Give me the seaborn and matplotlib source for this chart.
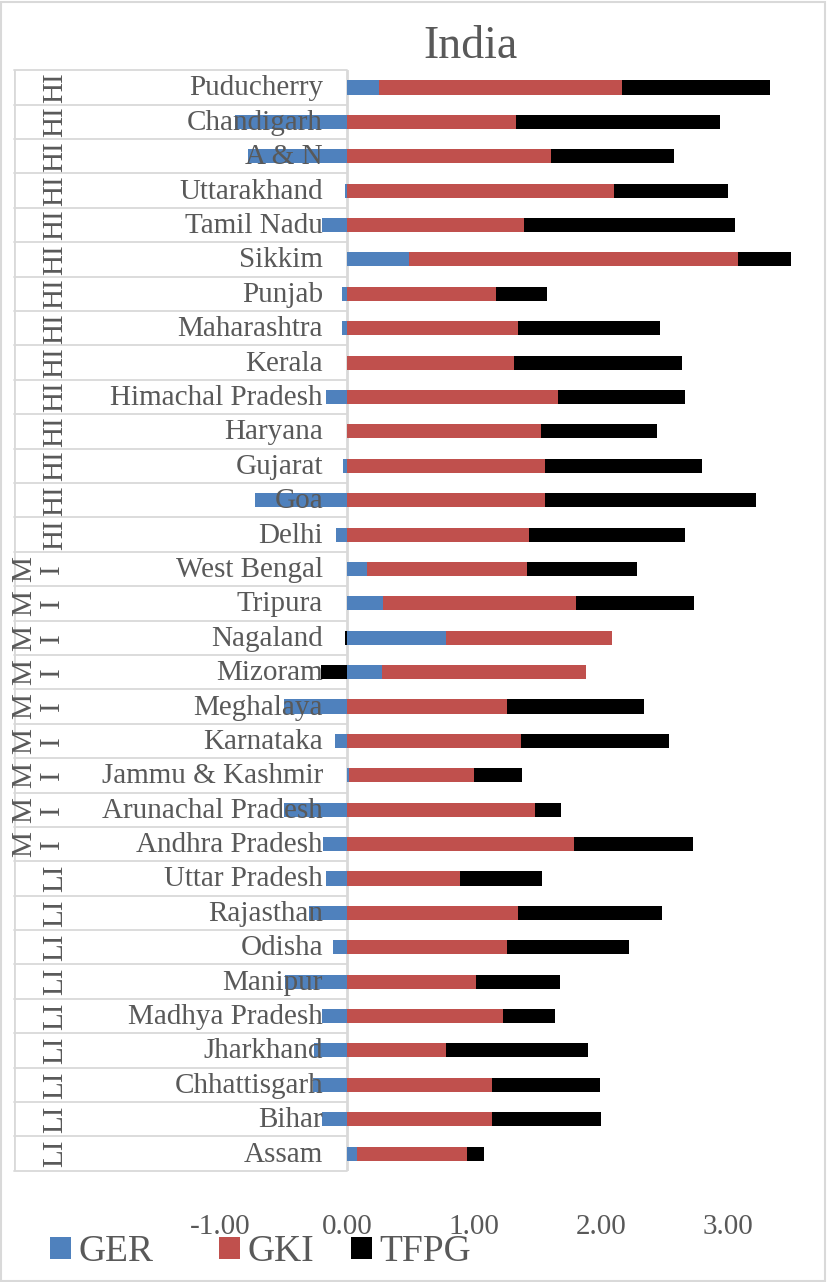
import numpy as np
import pandas as pd
import matplotlib
matplotlib.use("Agg")
import matplotlib.pyplot as plt
import matplotlib.transforms as mtransforms
from matplotlib.patches import Patch, Rectangle
import seaborn as sns

# ---- data -------------------------------------------------------------
states = [
    "Puducherry", "Chandigarh", "A & N", "Uttarakhand", "Tamil Nadu", "Sikkim",
    "Punjab", "Maharashtra", "Kerala", "Himachal Pradesh", "Haryana", "Gujarat",
    "Goa", "Delhi",
    "West Bengal", "Tripura", "Nagaland", "Mizoram", "Meghalaya", "Karnataka",
    "Jammu & Kashmir", "Arunachal Pradesh", "Andhra Pradesh",
    "Uttar Pradesh", "Rajasthan", "Odisha", "Manipur", "Madhya Pradesh",
    "Jharkhand", "Chhattisgarh", "Bihar", "Assam",
]
groups = ["HI"] * 14 + ["MI"] * 9 + ["LI"] * 9

ger = [0.255, -0.88, -0.777, -0.015, -0.194, 0.488, -0.042, -0.042, 0.0,
       -0.165, 0.0, -0.034, -0.724, -0.087,
       0.155, 0.286, 0.78, 0.278, -0.50, -0.094, 0.016, -0.50, -0.186,
       -0.165, -0.297, -0.108, -0.488, -0.194, -0.257, -0.27, -0.194, 0.081]
gki = [1.908, 1.33, 1.606, 2.102, 1.396, 2.588, 1.173, 1.346, 1.315,
       1.659, 1.528, 1.559, 1.559, 1.436,
       1.262, 1.515, 1.309, 1.602, 1.257, 1.368, 0.987, 1.478, 1.787,
       0.892, 1.346, 1.257, 1.013, 1.226, 0.78, 1.144, 1.144, 0.864]
tfpg = [1.17, 1.609, 0.969, 0.895, 1.662, 0.418, 0.404, 1.118, 1.32,
        1.005, 0.915, 1.236, 1.659, 1.228,
        0.864, 0.934, -0.015, -0.205, 1.084, 1.165, 0.372, 0.207, 0.937,
        0.643, 1.137, 0.963, 0.664, 0.412, 1.12, 0.846, 0.856, 0.136]

series_names = ["GER", "GKI", "TFPG"]
series_colors = ["#4F81BD", "#C0504D", "#000000"]
xtick_values = [-1, 0, 1, 2, 3]

# ---- styling ----------------------------------------------------------
sns.set_style("white")
plt.rcParams["font.family"] = ["Liberation Serif", "DejaVu Serif"]
TEXT = "#595959"
GRID = "#d9d9d9"

W, H = 827, 1282
fig = plt.figure(figsize=(W / 100, H / 100), dpi=100)

# plot area in pixels
left_px, right_px, top_px, bot_px = 14, 815, 70.3, 1170.8
zero_px, unit_px = 347, 127.0
ax = fig.add_axes([left_px / W, 1 - bot_px / H,
                   (right_px - left_px) / W, (bot_px - top_px) / H])

xmin = (left_px - zero_px) / unit_px
xmax = (right_px - zero_px) / unit_px

def px_to_x(px):
    return (px - zero_px) / unit_px

df = pd.DataFrame({"state": states, "group": groups,
                   "GER": ger, "GKI": gki, "TFPG": tfpg})

# stacked bars: positives build rightwards from 0, negatives leftwards
pos_base = np.zeros(len(df))
neg_base = np.zeros(len(df))
for name, color in zip(series_names, series_colors):
    vals = df[name].to_numpy(dtype=float)
    lefts = np.where(vals >= 0, pos_base, neg_base)
    sns.barplot(data=df, x=name, y="state", order=states, orient="h",
                color=color, saturation=1, width=0.41, errorbar=None,
                left=lefts, linewidth=0, ax=ax, zorder=2)
    pos_base = pos_base + np.where(vals >= 0, vals, 0)
    neg_base = neg_base + np.where(vals < 0, vals, 0)

n = len(states)
ax.set_xlim(xmin, xmax)
ax.set_ylim(n - 0.5, -0.5)
for s in ax.spines.values():
    s.set_visible(False)
ax.set_ylabel("")
ax.set_xlabel("")
ax.set_yticks([])
ax.set_xticks(xtick_values)
ax.set_xticklabels([f"{v:.2f}" for v in xtick_values])
ax.tick_params(axis="x", length=0, pad=31, labelsize=21, labelcolor=TEXT)

# category-axis frame: row separators and the two vertical rules
for i in range(n + 1):
    ax.plot([xmin, 0], [i - 0.5, i - 0.5], color=GRID, lw=1.3,
            clip_on=False, zorder=1)
ax.plot([0, 0], [-0.5, n - 0.5], color=GRID, lw=2, zorder=1.5)
ax.plot([xmin, xmin], [-0.5, n - 0.5], color=GRID, lw=2, zorder=1.5)

# state names, right-aligned just left of the zero line
name_tr = mtransforms.offset_copy(ax.transData, fig=fig, x=-24, y=-1, units="dots")
for i, s in enumerate(states):
    ax.text(0, i, s, transform=name_tr, ha="right", va="center",
            fontsize=21, color=TEXT, zorder=5)

# outer level labels, rotated; "MI" wraps onto two lines
for i, g in enumerate(groups):
    if g == "MI":
        ax.text(px_to_x(38), i, "M\nI", rotation=90, ha="center", va="center",
                fontsize=21, color=TEXT, linespacing=1.1, zorder=5)
    else:
        ax.text(px_to_x(55), i, g, rotation=90, ha="center", va="center",
                fontsize=21, color=TEXT, zorder=5)

# title
fig.text(471 / W, 1 - 47 / H, "India", ha="center", va="center",
         fontsize=33, color=TEXT)

# legend entries, one per series
for (label, color), x_px in zip(zip(series_names, series_colors), [50, 219, 351]):
    fig.legend(handles=[Patch(facecolor=color, edgecolor="none", label=label)],
               loc="center left", bbox_to_anchor=(x_px / W, 1 - 1252 / H),
               frameon=False, fontsize=27, labelcolor=TEXT,
               handlelength=0.55, handleheight=0.55, handletextpad=0.2,
               borderaxespad=0, borderpad=0)

# chart border
fig.patches.append(Rectangle((1 / W, 1 / H), (W - 3) / W, (H - 3) / H,
                             transform=fig.transFigure, fill=False,
                             edgecolor=GRID, lw=1.5))

fig.savefig("out.png", dpi=100)
